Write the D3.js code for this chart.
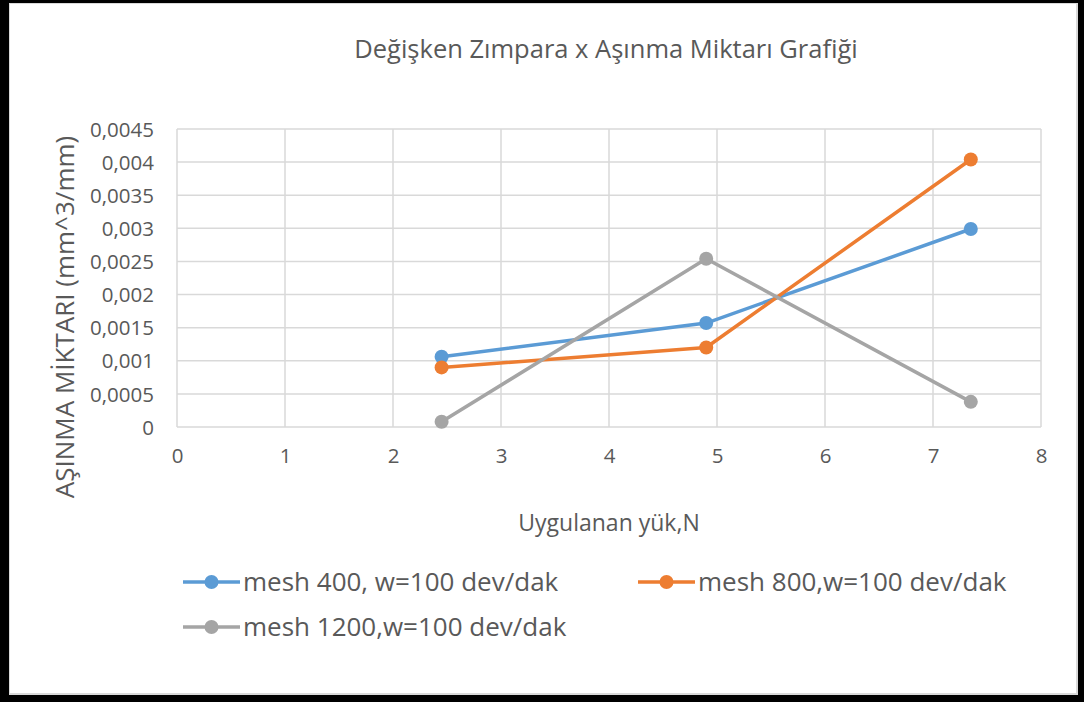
<!DOCTYPE html>
<html>
<head>
<meta charset="utf-8">
<script src="https://cdn.jsdelivr.net/npm/d3@7"></script>
<style>
  body { margin: 0; background: #fff; }
  text { font-family: "Open Sans", sans-serif; fill: #595959; }
</style>
</head>
<body>
<div id="chart"></div>
<script>
// Chart data
var seriesNames = ["mesh 400, w=100 dev/dak", "mesh 800,w=100 dev/dak", "mesh 1200,w=100 dev/dak"];
var loads = [2.45, 4.9, 7.35];
var mesh400 = [0.00106, 0.00157, 0.00299];
var mesh800 = [0.00090, 0.00120, 0.00404];
var mesh1200 = [0.00008, 0.00254, 0.00038];
var xTicks = [0, 1, 2, 3, 4, 5, 6, 7, 8];
var yTicks = [0, 0.0005, 0.001, 0.0015, 0.002, 0.0025, 0.003, 0.0035, 0.004, 0.0045];

var colors = ["#5b9bd5", "#ed7d31", "#a5a5a5"];
var width = 1084, height = 702;
var margin = {top: 129, right: 43, bottom: 275, left: 177};
var plotW = width - margin.left - margin.right,
    plotH = height - margin.top - margin.bottom;

var svg = d3.select("#chart").append("svg")
    .attr("width", width)
    .attr("height", height);

// outer frame
svg.append("rect").attr("x", 0).attr("y", 0).attr("width", width).attr("height", height).attr("fill", "#000");
svg.append("rect").attr("x", 9).attr("y", 3).attr("width", 1069).attr("height", 692).attr("fill", "#d9d9d9");
svg.append("rect").attr("x", 10).attr("y", 4).attr("width", 1066).attr("height", 689).attr("fill", "#fff");

var x = d3.scaleLinear().domain([0, 8]).range([0, plotW]);
var y = d3.scaleLinear().domain([0, 0.0045]).range([plotH, 0]);

var g = svg.append("g")
    .attr("transform", "translate(" + margin.left + "," + margin.top + ")");

// gridlines
g.append("g").selectAll("line").data(yTicks).enter().append("line")
    .attr("x1", 0).attr("x2", plotW)
    .attr("y1", function (d) { return y(d); })
    .attr("y2", function (d) { return y(d); })
    .attr("stroke", "#d9d9d9").attr("stroke-width", 1.5);

g.append("g").selectAll("line").data(xTicks).enter().append("line")
    .attr("x1", function (d) { return x(d); })
    .attr("x2", function (d) { return x(d); })
    .attr("y1", 0).attr("y2", plotH)
    .attr("stroke", "#d9d9d9").attr("stroke-width", 1.5);

// axes labels
var fmt = function (d) { return String(d).replace(".", ","); };

var yAxis = g.append("g").call(d3.axisLeft(y).tickValues(yTicks).tickSize(0).tickPadding(23).tickFormat(fmt));
var xAxis = g.append("g").attr("transform", "translate(0," + plotH + ")")
    .call(d3.axisBottom(x).tickValues(xTicks).tickSize(0).tickPadding(21).tickFormat(fmt));
[yAxis, xAxis].forEach(function (a) {
    a.select(".domain").remove();
    a.selectAll("text").style("font-family", "'Open Sans', sans-serif").style("font-size", "20.5px").attr("fill", "#595959");
});
yAxis.selectAll("text").attr("dy", "0.35em");
xAxis.selectAll("text").attr("dy", "0.71em");

// series
var allSeries = [mesh400, mesh800, mesh1200];
var line = d3.line()
    .x(function (d, i) { return x(loads[i]); })
    .y(function (d) { return y(d); });

allSeries.forEach(function (s, k) {
    g.append("path").datum(s)
        .attr("d", line)
        .attr("fill", "none")
        .attr("stroke", colors[k])
        .attr("stroke-width", 3.5)
        .attr("stroke-linejoin", "round");
    g.selectAll(".dot-" + k).data(s).enter().append("circle")
        .attr("class", "dot-" + k)
        .attr("cx", function (d, i) { return x(loads[i]); })
        .attr("cy", function (d) { return y(d); })
        .attr("r", 7)
        .attr("fill", colors[k]);
});

// titles
svg.append("text").attr("x", 606).attr("y", 58).attr("text-anchor", "middle")
    .style("font-size", "25.5px").text("Değişken Zımpara x Aşınma Miktarı Grafiği");
svg.append("text").attr("x", 609).attr("y", 531).attr("text-anchor", "middle")
    .style("font-size", "23px").text("Uygulanan yük,N");
svg.append("text").attr("transform", "translate(74,317) rotate(-90)").attr("text-anchor", "middle")
    .style("font-size", "26px").text("AŞINMA MİKTARI (mm^3/mm)");

// legend
var legendPos = [[183, 582], [638, 582], [183, 627]];
seriesNames.forEach(function (name, k) {
    var lg = svg.append("g").attr("transform", "translate(" + legendPos[k][0] + "," + legendPos[k][1] + ")");
    lg.append("line").attr("x1", 0).attr("x2", 57).attr("y1", 0).attr("y2", 0)
        .attr("stroke", colors[k]).attr("stroke-width", 3.5);
    lg.append("circle").attr("cx", 28.5).attr("cy", 0).attr("r", 7).attr("fill", colors[k]);
    lg.append("text").attr("x", 60).attr("y", 0).attr("dy", "0.35em")
        .style("font-size", "26px").text(name);
});
</script>
</body>
</html>
